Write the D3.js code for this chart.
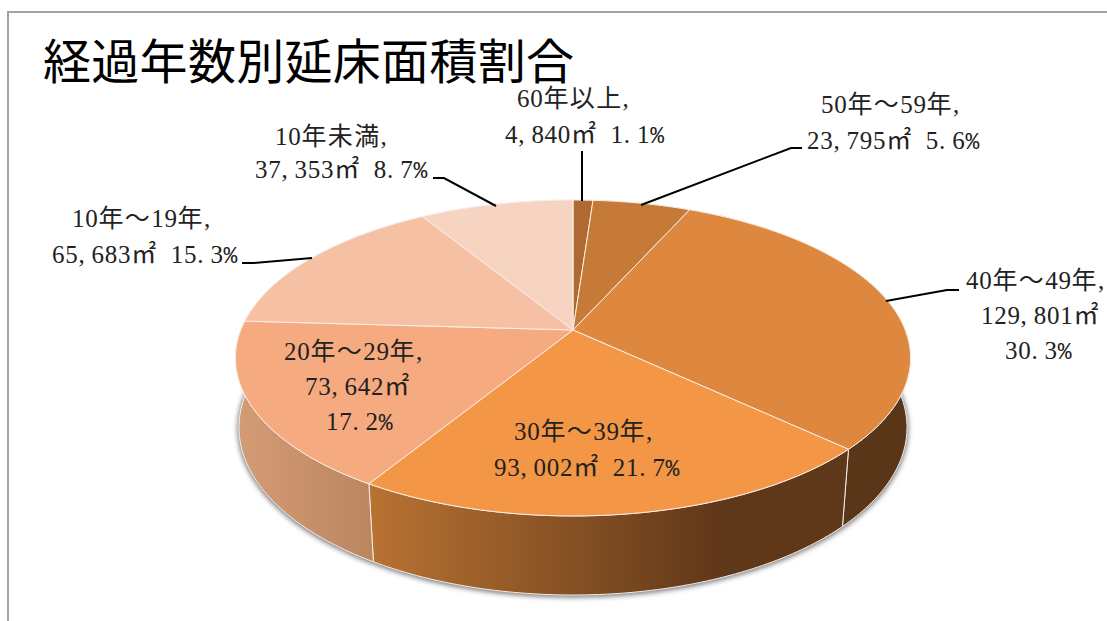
<!DOCTYPE html>
<html>
<head>
<meta charset="utf-8">
<script src="https://cdn.jsdelivr.net/npm/d3@7"></script>
<style>
    html, body { margin: 0; background: #fff; }
    svg { display: block; }
    text { font-family: "Liberation Serif", "Noto Sans CJK JP", serif; fill: #222; }
</style>
</head>
<body>
<svg width="1107" height="621"></svg>
<script>
const title = '経過年数別延床面積割合'
const categories = ['60年以上', '50年～59年', '40年～49年', '30年～39年', '20年～29年', '10年～19年', '10年未満']
const areas = [4840, 23795, 129801, 93002, 73642, 65683, 37353]
const percents = ['1.1', '5.6', '30.3', '21.7', '17.2', '15.3', '8.7']
const topColors = ['#ae6a30', '#c67a37', '#dd873f', '#f39645', '#f5aa80', '#f6c0a4', '#f7d3c1']
const wallFrom = ['#5a3619', '#5a3619', '#5a3619', '#b87232', '#d49c75', '#d49c75', '#d49c75']
const wallTo = ['#5a3619', '#5a3619', '#5a3619', '#5f3719', '#bb8560', '#bb8560', '#bb8560']

// label layout: one [x, y] per text line, 3 lines means value and percent are split
const labelLines = [
    [[517, 107], [505, 143]],
    [[821, 113], [807, 149]],
    [[966, 289], [981, 324], [1005, 359]],
    [[514, 440], [494, 476]],
    [[284, 360], [305, 395], [326, 430]],
    [[72, 227], [52, 263]],
    [[275, 145], [255, 178]]
]
const leaders = [
    [[582, 151], [582, 201]],
    [[802, 148], [791, 148], [641, 205]],
    [[959, 290], [947, 290], [886, 301]],
    [],
    [],
    [[242, 263], [253, 263], [312, 258]],
    [[433, 178], [444, 178], [496, 206]]
]

let svg = d3.select('svg')
let defs = svg.append('defs')

// pie plane to screen, perspective so the apex sits above the ellipse centre
let cx = 573, cy = 330, ax = 332.2, ay = 153, k = 0.1772
function project(a) {
    let u = Math.sin(a), v = Math.cos(a), w = 1 + k * v
    return [cx + ax * u / w, cy - ay * v / w]
}
// lower rim of the side wall, an ellipse of its own
let rimRx = 334, rimRy = 167.5, rimY = 427.5
function lower(p) {
    let s = 0.978 + 0.012 * Math.max(0, Math.min(1, (450 - p[1]) / 60))
    let dx = (p[0] - cx) * s
    let dy = rimRy * Math.sqrt(Math.max(0, 1 - (dx / rimRx) ** 2))
    return [cx + dx, p[1] >= 358 ? rimY + dy : rimY - dy]
}

let slices = d3.pie().sort(null).value(d => d)(areas)
let line = d3.line()

function arcPoints(s) {
    let steps = Math.max(4, Math.ceil((s.endAngle - s.startAngle) * 60))
    return d3.range(steps + 1).map(i => project(s.startAngle + (s.endAngle - s.startAngle) * i / steps))
}

defs.append('filter').attr('id', 'blur')
    .attr('x', '-10%').attr('y', '-10%').attr('width', '120%').attr('height', '120%')
    .append('feGaussianBlur').attr('stdDeviation', 2.5)

slices.forEach((s, i) => {
    let grad = defs.append('linearGradient')
        .attr('id', 'wall' + i)
        .attr('gradientUnits', 'userSpaceOnUse')
        .attr('x1', i == 3 ? 372 : 238).attr('x2', i == 3 ? 722 : 373)
        .attr('y1', 0).attr('y2', 0)
    grad.append('stop').attr('offset', 0).attr('stop-color', wallFrom[i])
    grad.append('stop').attr('offset', 1).attr('stop-color', wallTo[i])
})

// frame
svg.append('path')
    .attr('d', 'M8,621V12H1107')
    .attr('fill', 'none')
    .attr('stroke', '#a3a3a3')
    .attr('stroke-width', 2)

// shadow under the pie
let rim = d3.range(181).map(i => lower(project(i * Math.PI / 90)))
svg.append('path')
    .attr('d', line(rim) + 'Z')
    .attr('transform', 'translate(0,1)')
    .attr('fill', '#555')
    .attr('stroke', '#555')
    .attr('stroke-width', 3)
    .attr('opacity', 0.75)
    .attr('filter', 'url(#blur)')

// side walls
svg.selectAll('.wall')
    .data(slices)
    .enter()
    .append('path')
    .attr('class', 'wall')
    .attr('d', s => {
        let pts = arcPoints(s)
        return line(pts.concat(pts.map(lower).reverse())) + 'Z'
    })
    .attr('fill', (s, i) => `url(#wall${i})`)
    .attr('stroke', '#f4ece6')
    .attr('stroke-width', 1)

// top faces
svg.selectAll('.face')
    .data(slices)
    .enter()
    .append('path')
    .attr('class', 'face')
    .attr('d', s => line([[cx, cy]].concat(arcPoints(s))) + 'Z')
    .attr('fill', (s, i) => topColors[i])
    .attr('stroke', '#fbeee6')
    .attr('stroke-width', 1)

// leader lines
svg.selectAll('.leader')
    .data(leaders.filter(d => d.length))
    .enter()
    .append('path')
    .attr('class', 'leader')
    .attr('d', d => line(d))
    .attr('fill', 'none')
    .attr('stroke', '#000')
    .attr('stroke-width', 2)

// title
svg.append('text')
    .attr('x', 43)
    .attr('y', 79)
    .style('font-family', '"Noto Sans CJK JP"')
    .style('fill', '#000')
    .style('letter-spacing', '0.3px')
    .attr('font-size', 48)
    .text(title)

// labels, half width cells like the original mincho face
let cell = 13.2
function drawLine(str, x, y) {
    let xs = [], pos = x
    for (let ch of str) {
        xs.push(pos)
        pos += ch.charCodeAt(0) > 255 ? cell * 2 : cell
    }
    let t = svg.append('text')
        .attr('class', 'label')
        .attr('x', xs.map(d => d.toFixed(1)).join(' '))
        .attr('y', y)
        .attr('font-size', 25)
    let pct = str.endsWith('%')
    t.append('tspan').text(pct ? str.slice(0, -1) : str)
    if (pct) {
        t.append('tspan')
            .style('font-family', '"Liberation Mono"')
            .attr('font-size', 23)
            .text('%')
    }
}

categories.forEach((name, i) => {
    let area = d3.format(',')(areas[i]) + '㎡'
    let pct = percents[i] + '%'
    let lines = labelLines[i].length == 3
        ? [name + ',', area, pct]
        : [name + ',', area + ' ' + pct]
    lines.forEach((str, j) => drawLine(str, labelLines[i][j][0], labelLines[i][j][1]))
})
</script>
</body>
</html>
